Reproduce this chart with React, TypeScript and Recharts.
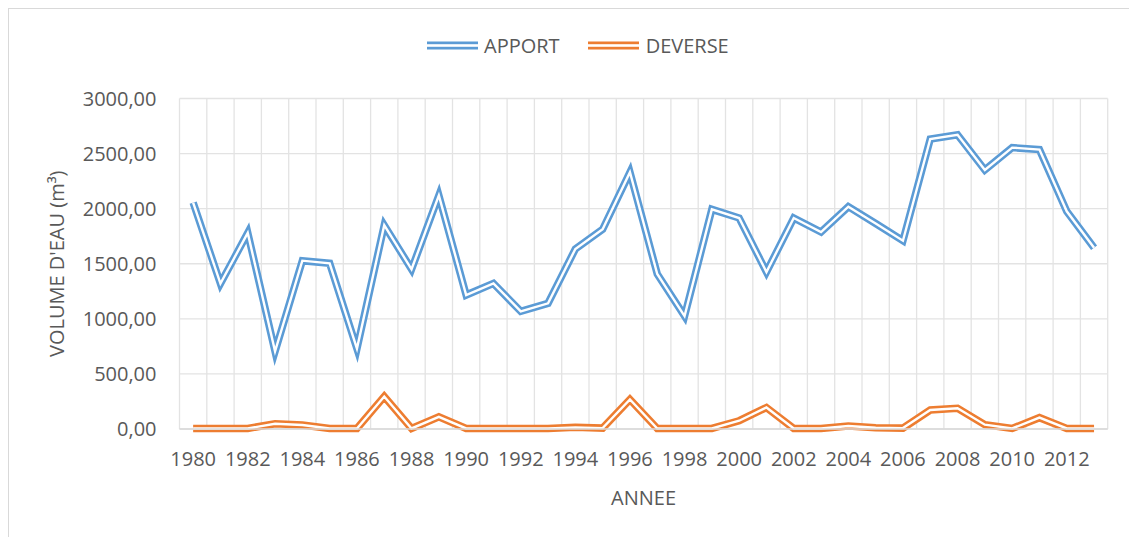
import React from "react";
import {
  LineChart,
  Line,
  XAxis,
  YAxis,
  CartesianGrid,
} from "recharts";

const years = [
  1980, 1981, 1982, 1983, 1984, 1985, 1986, 1987, 1988, 1989, 1990, 1991,
  1992, 1993, 1994, 1995, 1996, 1997, 1998, 1999, 2000, 2001, 2002, 2003,
  2004, 2005, 2006, 2007, 2008, 2009, 2010, 2011, 2012, 2013,
];

const apport = [
  2055, 1320, 1780, 705, 1528, 1504, 730, 1850, 1450, 2120, 1216, 1322, 1068,
  1141, 1634, 1813, 2330, 1407, 1025, 1994, 1915, 1425, 1915, 1788, 2018,
  1865, 1709, 2632, 2671, 2351, 2554, 2536, 1976, 1646,
];

const deverse = [
  5, 5, 5, 48, 36, 5, 5, 295, 5, 110, 5, 5, 5, 5, 15, 8, 268, 5, 5, 5, 75,
  195, 5, 5, 27, 12, 8, 172, 188, 39, 5, 103, 5, 5,
];

const yTicks = [0, 500, 1000, 1500, 2000, 2500, 3000];

const BLUE = "#5B9BD5";
const ORANGE = "#ED7D31";
const TEXT = "#595959";
const GRID = "#E3E3E3";
const FRAME = "#D9D9D9";
const FONT = "'Open Sans', sans-serif";

const data = years.map((y, i) => ({
  year: y,
  apport: apport[i],
  deverse: deverse[i],
}));

const fmt = (v: number) => v.toFixed(2).replace(".", ",");

const DoubleSwatch = ({ color }: { color: string }) => (
  <svg width={51} height={9} style={{ display: "block" }}>
    <rect x={0} y={0.5} width={51} height={2.7} fill={color} />
    <rect x={0} y={5.8} width={51} height={2.7} fill={color} />
  </svg>
);

const LegendBox = () => (
  <div
    style={{
      position: "absolute",
      top: 23,
      left: 418,
      display: "flex",
      alignItems: "center",
      fontFamily: FONT,
      fontSize: 20,
      color: TEXT,
      whiteSpace: "nowrap",
    }}
  >
    <DoubleSwatch color={BLUE} />
    <span style={{ marginLeft: 6, marginRight: 28 }}>APPORT</span>
    <DoubleSwatch color={ORANGE} />
    <span style={{ marginLeft: 7 }}>DEVERSE</span>
  </div>
);

const YTitle = (props: any) => {
  const vb = props.viewBox || {};
  const cx = vb.x + 47;
  const cy = vb.y + vb.height / 2;
  return (
    <text
      x={cx}
      y={cy}
      transform={`rotate(-90 ${cx} ${cy})`}
      textAnchor="middle"
      dominantBaseline="central"
      fill={TEXT}
      fontFamily={FONT}
      fontSize={20}
    >
      VOLUME D'EAU (m³)
    </text>
  );
};

const lineStyle = {
  strokeLinejoin: "miter" as const,
  strokeLinecap: "butt" as const,
  strokeMiterlimit: 12,
  dot: false,
  activeDot: false,
  isAnimationActive: false,
};

export default function App() {
  return (
    <div
      style={{
        position: "relative",
        width: 1129,
        height: 529,
        boxSizing: "border-box",
        borderTop: `1px solid ${FRAME}`,
        borderLeft: `1px solid ${FRAME}`,
        background: "#fff",
        overflow: "hidden",
      }}
    >
      <LegendBox />
      <LineChart
        width={1128}
        height={528}
        data={data}
        margin={{ top: 89.5, right: 29.3, bottom: 28, left: 0 }}
      >
        <CartesianGrid
          stroke={GRID}
          strokeWidth={1.3}
          verticalCoordinatesGenerator={({ offset }: any) =>
            Array.from(
              { length: years.length + 1 },
              (_, i) => offset.left + (i * offset.width) / years.length
            )
          }
        />
        <XAxis
          dataKey="year"
          interval={1}
          padding={{ left: 13.65, right: 13.65 }}
          height={80}
          tickLine={false}
          tickSize={0}
          tickMargin={23}
          axisLine={{ stroke: FRAME, strokeWidth: 1.3 }}
          tick={{ fill: TEXT, fontFamily: FONT, fontSize: 20 }}
          label={{
            value: "ANNEE",
            position: "insideBottom",
            offset: 4,
            fill: TEXT,
            fontFamily: FONT,
            fontSize: 20,
          }}
        />
        <YAxis
          width={170.5}
          domain={[0, 3000]}
          ticks={yTicks}
          tickFormatter={fmt}
          axisLine={false}
          tickLine={false}
          tickSize={0}
          tickMargin={23}
          tick={{ fill: TEXT, fontFamily: FONT, fontSize: 20 }}
          label={<YTitle />}
        />
        <Line dataKey="apport" stroke={BLUE} strokeWidth={7.5} {...lineStyle} />
        <Line dataKey="apport" stroke="#fff" strokeWidth={2.4} legendType="none" {...lineStyle} />
        <Line dataKey="deverse" stroke={ORANGE} strokeWidth={7.5} {...lineStyle} />
        <Line dataKey="deverse" stroke="#fff" strokeWidth={2.4} legendType="none" {...lineStyle} />
      </LineChart>
    </div>
  );
}
